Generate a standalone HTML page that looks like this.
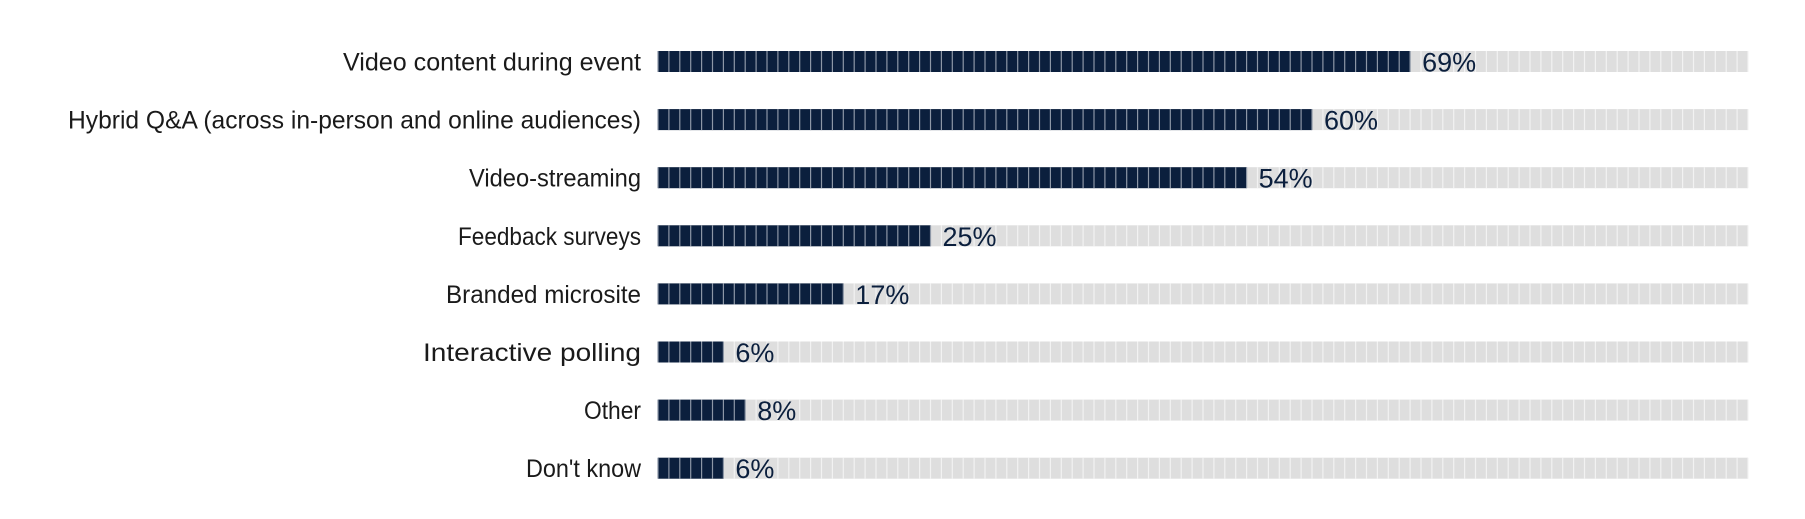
<!DOCTYPE html>
<html><head><meta charset="utf-8"><style>
html,body{margin:0;padding:0;background:#fff;}
svg{display:block;}
text{font-family:"Liberation Sans",sans-serif;}
</style></head><body>
<svg id="chart" width="1805" height="519" viewBox="0 0 1805 519" xmlns="http://www.w3.org/2000/svg"></svg>
<script>
const categories = ["Video content during event","Hybrid Q&A (across in-person and online audiences)","Video-streaming","Feedback surveys","Branded microsite","Interactive polling","Other","Don't know"];
const values = [69,60,54,25,17,6,8,6];
const valueLabels = ["69%","60%","54%","25%","17%","6%","8%","6%"];

const svg = document.getElementById('chart');
const NS = 'http://www.w3.org/2000/svg';
const x0 = 658, x1 = 1748, maxV = 100, cells = 100;
const firstY = 61.5, step = 58.1, barH = 21;
function xScale(v){ return x0 + (x1 - x0) * v / maxV; }
function yScale(i){ return firstY + i * step; }
const cellW = (x1 - x0) / cells;

categories.forEach((cat, i) => {
  const cy = yScale(i);
  const g = document.createElementNS(NS, 'g');
  
  
  svg.appendChild(g);

  const bg = document.createElementNS(NS, 'rect');
  
  
  bg.setAttribute('x', x0); bg.setAttribute('y', cy - barH/2);
  bg.setAttribute('width', x1 - x0); bg.setAttribute('height', barH);
  bg.setAttribute('fill', '#dedede');
  g.appendChild(bg);

  const fg = document.createElementNS(NS, 'rect');
  
  
  fg.setAttribute('x', x0); fg.setAttribute('y', cy - barH/2);
  fg.setAttribute('width', xScale(values[i]) - x0); fg.setAttribute('height', barH);
  fg.setAttribute('fill', '#0b1f3d');
  g.appendChild(fg);

  for (let k = 0; k <= cells; k++) {
    const xx = x0 + k * cellW;
    const ln = document.createElementNS(NS, 'rect');
    
    
    ln.setAttribute('x', xx - 0.6); ln.setAttribute('y', cy - barH/2);
    ln.setAttribute('width', 1.2); ln.setAttribute('height', barH);
    ln.setAttribute('fill', xx <= xScale(values[i]) + 0.5 ? '#8d97a6' : '#f2f2f2');
    g.appendChild(ln);
  }

  const lab = document.createElementNS(NS, 'text');
  
  
  lab.setAttribute('x', 641); lab.setAttribute('y', cy + 9);
  lab.setAttribute('text-anchor', 'end');
  lab.setAttribute('font-size', '25');
  lab.setAttribute('fill', '#1a1a1a');
  lab.setAttribute('textLength', Math.round(cat.length * 11.45));
  lab.setAttribute('lengthAdjust', 'spacingAndGlyphs');
  lab.textContent = cat;
  g.appendChild(lab);

  const vl = document.createElementNS(NS, 'text');
  
  
  vl.setAttribute('x', xScale(values[i]) + 12); vl.setAttribute('y', cy + 10);
  vl.setAttribute('font-size', '27');
  vl.setAttribute('fill', '#0b1f3d');
  vl.textContent = valueLabels[i];
  g.appendChild(vl);
});
</script>
</body></html>
